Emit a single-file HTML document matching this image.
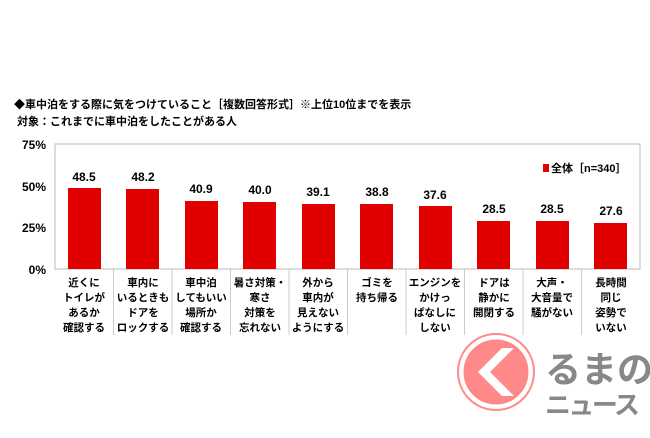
<!DOCTYPE html>
<html><head><meta charset="utf-8"><style>
body{margin:0;background:#fff;}
svg text{font-family:"Liberation Sans","Noto Sans CJK JP",sans-serif;}
</style></head><body>
<svg width="650" height="433" viewBox="0 0 650 433" xmlns="http://www.w3.org/2000/svg">
<text x="14" y="108" font-size="11" font-weight="bold" fill="#000">◆車中泊をする際に気をつけていること［複数回答形式］※上位10位までを表示</text>
<text x="17" y="125" font-size="11" font-weight="bold" fill="#000">対象：これまでに車中泊をしたことがある人</text>
<rect x="55" y="144" width="585" height="125" fill="none" stroke="#bbb" stroke-width="1"/>
<g font-size="12" font-weight="bold" text-anchor="end" fill="#000">
<text x="46" y="149">75%</text><text x="46" y="191">50%</text><text x="46" y="232">25%</text><text x="46" y="274">0%</text>
</g>
<g fill="#e00000">
<rect x="68" y="188" width="33" height="81"/>
<rect x="126" y="189" width="33" height="80"/>
<rect x="185" y="201" width="33" height="68"/>
<rect x="243" y="202" width="33" height="67"/>
<rect x="302" y="204" width="33" height="65"/>
<rect x="360" y="204" width="33" height="65"/>
<rect x="419" y="206" width="33" height="63"/>
<rect x="477" y="221" width="33" height="48"/>
<rect x="536" y="221" width="33" height="48"/>
<rect x="594" y="223" width="33" height="46"/>
</g>
<g font-size="12" font-weight="bold" text-anchor="middle" fill="#000">
<text x="84" y="181">48.5</text><text x="143" y="181">48.2</text><text x="201" y="193">40.9</text><text x="260" y="194">40.0</text><text x="318" y="196">39.1</text><text x="377" y="196">38.8</text><text x="435" y="199">37.6</text><text x="494" y="213">28.5</text><text x="552" y="213">28.5</text><text x="611" y="215">27.6</text>
</g>
<rect x="543" y="164" width="6" height="8" fill="#e00000"/>
<text x="551" y="172" font-size="11" font-weight="bold">全体［n=340］</text>
<g stroke="#ccc" stroke-width="1">
<line x1="113.5" y1="269" x2="113.5" y2="335"/><line x1="172" y1="269" x2="172" y2="335"/><line x1="230.5" y1="269" x2="230.5" y2="335"/><line x1="289" y1="269" x2="289" y2="335"/><line x1="347.5" y1="269" x2="347.5" y2="335"/><line x1="406" y1="269" x2="406" y2="335"/><line x1="464.5" y1="269" x2="464.5" y2="335"/><line x1="523" y1="269" x2="523" y2="335"/><line x1="581.5" y1="269" x2="581.5" y2="335"/>
</g>
<g font-size="10.5" font-weight="bold" text-anchor="middle" fill="#000">
<text x="84" y="286">近くに</text><text x="84" y="301">トイレが</text><text x="84" y="316">あるか</text><text x="84" y="331">確認する</text>
<text x="143" y="286">車内に</text><text x="143" y="301">いるときも</text><text x="143" y="316">ドアを</text><text x="143" y="331">ロックする</text>
<text x="201" y="286">車中泊</text><text x="201" y="301">してもいい</text><text x="201" y="316">場所か</text><text x="201" y="331">確認する</text>
<text x="260" y="286">暑さ対策・</text><text x="260" y="301">寒さ</text><text x="260" y="316">対策を</text><text x="260" y="331">忘れない</text>
<text x="318" y="286">外から</text><text x="318" y="301">車内が</text><text x="318" y="316">見えない</text><text x="318" y="331">ようにする</text>
<text x="377" y="286">ゴミを</text><text x="377" y="301">持ち帰る</text>
<text x="435" y="286">エンジンを</text><text x="435" y="301">かけっ</text><text x="435" y="316">ぱなしに</text><text x="435" y="331">しない</text>
<text x="494" y="286">ドアは</text><text x="494" y="301">静かに</text><text x="494" y="316">開閉する</text>
<text x="552" y="286">大声・</text><text x="552" y="301">大音量で</text><text x="552" y="316">騒がない</text>
<text x="611" y="286">長時間</text><text x="611" y="301">同じ</text><text x="611" y="316">姿勢で</text><text x="611" y="331">いない</text>
</g>
<circle cx="496" cy="372" r="34" fill="#f88" stroke="#fff" stroke-width="3"/>
<circle cx="496" cy="372" r="38" fill="none" stroke="#f88" stroke-width="2"/>
<polygon points="502,348 478,372 502,396 514,396 490,372 514,348" fill="#fff"/>
<text x="545" y="382" font-size="36" font-weight="bold" fill="#888">るまの</text>
<text x="545" y="414" font-size="26" font-weight="bold" fill="#888" textLength="95">ニュース</text>
</svg>
</body></html>
